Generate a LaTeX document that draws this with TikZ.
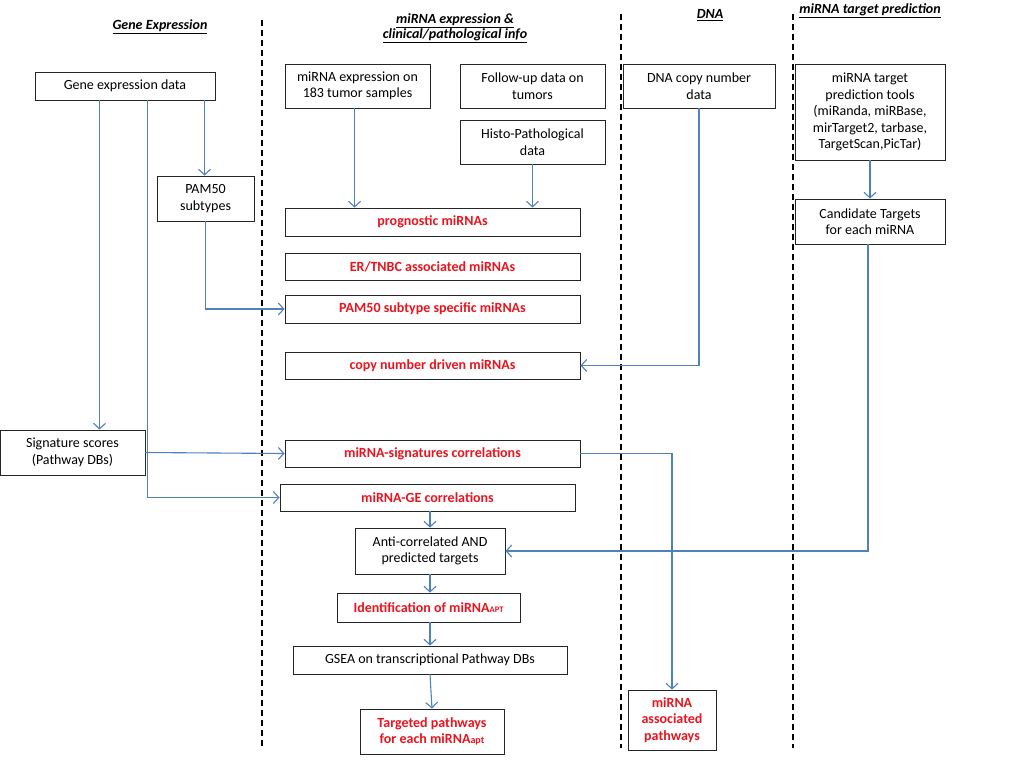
\documentclass[tikz,border=0pt]{standalone}
\usepackage{fontspec}
\setmainfont{Carlito}
\usetikzlibrary{arrows.meta,calc}
\definecolor{arrblue}{RGB}{79,129,189}
\definecolor{hred}{RGB}{232,20,30}
\begin{document}
\begin{tikzpicture}[x=1pt,y=-1pt,
  box/.style={draw=black!85,line width=0.9pt,align=center,inner sep=1pt,font=\fontsize{14}{16.5}\selectfont},
  rbox/.style={box,text=hred,font=\fontsize{14}{16.5}\selectfont\bfseries},
  arr/.style={draw=arrblue,line width=1.1pt,-{Straight Barb[length=5.5pt,width=12pt]}},
  sep/.style={draw=black,line width=1.6pt,dash pattern=on 6pt off 4pt},
  hdr/.style={font=\fontsize{14}{16}\selectfont\bfseries\itshape,align=center}]
\useasboundingbox (0,0) rectangle (1024,768);
\fill[white] (0,0) rectangle (1024,768);
% separators
\coordinate (s1a) at (262,20); \coordinate (s1b) at (262,748);
\coordinate (s2a) at (621,14); \coordinate (s2b) at (621,748);
\coordinate (s3a) at (793,14); \coordinate (s3b) at (793,748);
\draw[sep] (s1a) -- (s1b);
\draw[sep] (s2a) -- (s2b);
\draw[sep] (s3a) -- (s3b);
% headers
\node[hdr] (h1) at (160,27) {\underline{Gene Expression}};
\node[hdr] (h2) at (455,28) {\underline{miRNA expression \&}\\[-1pt]\underline{clinical/pathological info}};
\node[hdr] (h3) at (710,15) {\underline{DNA}};
\node[hdr] (h4) at (870,11) {\underline{miRNA target prediction}};
% boxes
\node[box,minimum width=180pt,minimum height=28pt] (ged) at (125,86) {Gene expression data};
\node[box,minimum width=145pt,minimum height=44pt] (mie) at (357.5,86) {miRNA expression on\\183 tumor samples};
\node[box,minimum width=145pt,minimum height=44pt] (fup) at (532.5,86) {Follow-up data on\\tumors};
\node[box,minimum width=145pt,minimum height=44pt] (his) at (532.5,142) {Histo-Pathological\\data};
\node[box,minimum width=152pt,minimum height=44pt] (dna) at (699,86) {DNA copy number\\data};
\node[box,minimum width=150pt,minimum height=96pt] (tpt) at (870,112) {miRNA target\\prediction tools\\(miRanda, miRBase,\\mirTarget2, tarbase,\\TargetScan,PicTar)};
\node[box,minimum width=150pt,minimum height=45pt] (cand) at (870,221.5) {Candidate Targets\\for each miRNA};
\node[box,minimum width=97pt,minimum height=45pt] (pam) at (205.5,198.5) {PAM50\\subtypes};
\node[rbox,minimum width=295pt,minimum height=28pt] (prog) at (432.5,222) {prognostic miRNAs};
\node[rbox,minimum width=295pt,minimum height=27pt] (er) at (432.5,266.5) {ER/TNBC associated miRNAs};
\node[rbox,minimum width=295pt,minimum height=28pt] (pams) at (432.5,309) {PAM50 subtype specific miRNAs};
\node[rbox,minimum width=295pt,minimum height=27pt] (cnd) at (432.5,365.5) {copy number driven miRNAs};
\node[box,minimum width=145pt,minimum height=45pt] (sig) at (72.5,452.5) {Signature scores\\(Pathway DBs)};
\node[rbox,minimum width=295pt,minimum height=27pt] (msig) at (432.5,453.5) {miRNA-signatures correlations};
\node[rbox,minimum width=295pt,minimum height=27pt] (mge) at (427.5,497.5) {miRNA-GE correlations};
\node[box,minimum width=150pt,minimum height=46pt] (anti) at (430,551) {Anti-correlated AND\\predicted targets};
\node[rbox,minimum width=183pt,minimum height=29pt] (idm) at (428.5,607.5) {Identification of miRNA{\fontsize{8.5}{9}\selectfont APT}};
\node[rbox,minimum width=144pt,minimum height=45pt] (tgt) at (432,731.5) {Targeted pathways\\for each miRNA{\fontsize{10}{10}\selectfont apt}};
\node[box,minimum width=274pt,minimum height=28pt] (gsea) at (430,660) {GSEA on transcriptional Pathway DBs};
\node[rbox,minimum width=88pt,minimum height=60pt] (asp) at (672,720) {miRNA\\associated\\pathways};
% arrows
\draw[arr] ([xshift=65pt]ged.south west) -- ([xshift=65pt]ged.south west |- sig.north);
\draw[arr] ([xshift=113pt]ged.south west) |- (mge.west);
\draw[arr] ([xshift=170pt]ged.south west) -- ([xshift=170pt]ged.south west |- pam.north);
\draw[arr] (pam.south) |- (pams.west);
\draw[arr] ([xshift=70pt]mie.south west) -- ([xshift=70pt]mie.south west |- prog.north);
\draw[arr] (his.south) -- (his.south |- prog.north);
\draw[arr] (dna.south) |- (cnd.east);
\draw[arr] (tpt.south) -- (cand.north);
\draw[arr] ([xshift=-2pt]cand.south) |- (anti.east);
\draw[arr] (sig.east) -- (msig.west);
\draw[arr] (msig.east) -| (asp.north);
\draw[arr] (mge.south -| anti.north) -- (anti.north);
\draw[arr] (anti.south) -- (anti.south |- idm.north);
\draw[arr] (anti.south |- idm.south) -- (gsea.north);
\draw[arr] (gsea.south) -- (tgt.north);
\end{tikzpicture}
\end{document}
